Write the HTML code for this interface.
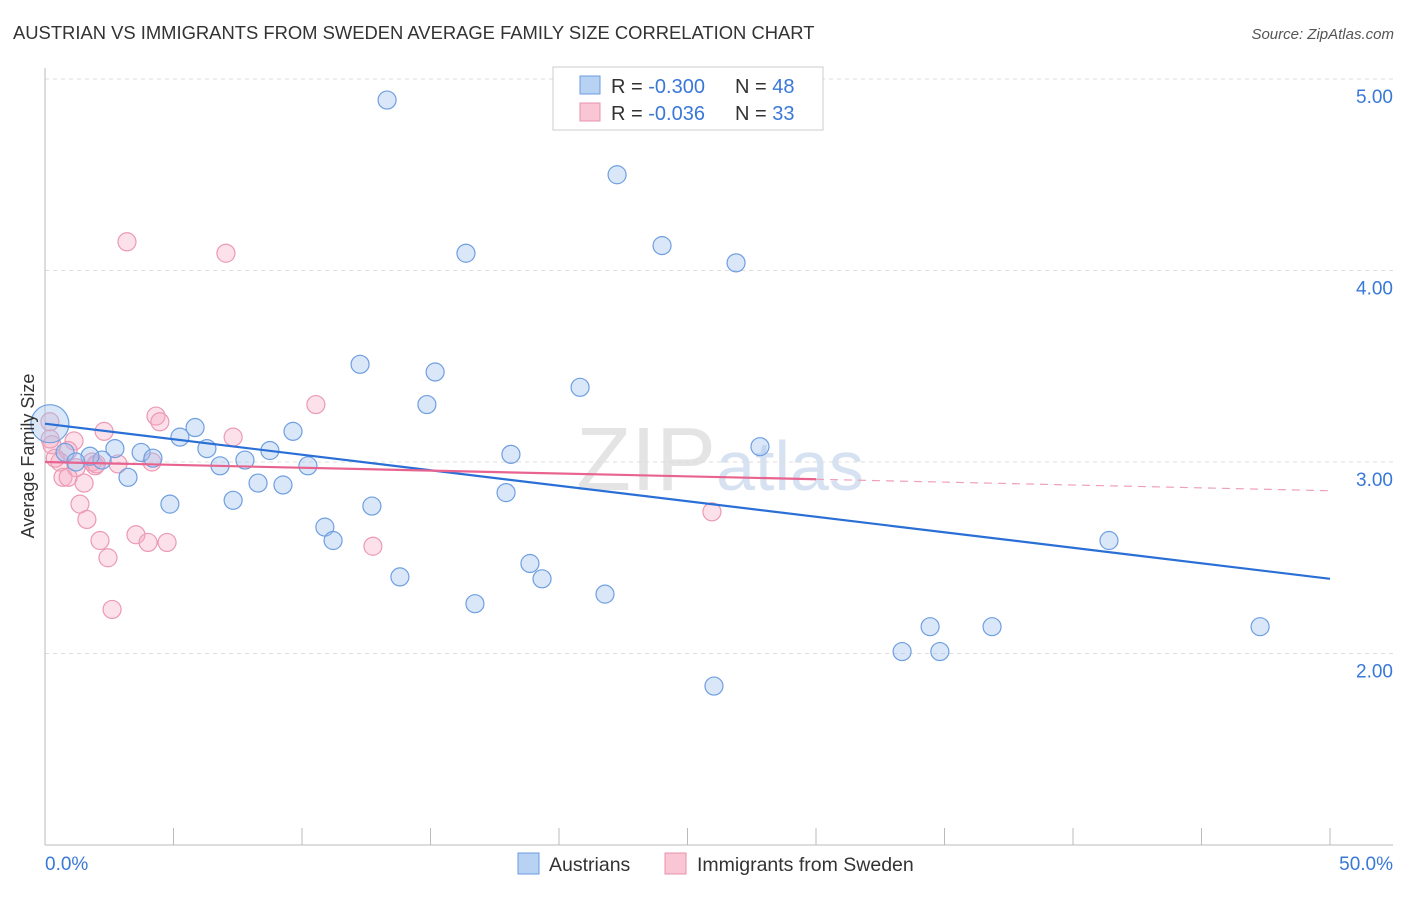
<!DOCTYPE html>
<html><head><meta charset="utf-8"><style>
body{margin:0;background:#fff;font-family:"Liberation Sans",sans-serif;}
svg text{font-family:"Liberation Sans",sans-serif;}
</style></head><body>
<svg id="chart" width="1406" height="892" viewBox="0 0 1406 892" xmlns="http://www.w3.org/2000/svg">
<text x="13" y="39" font-size="18.4" fill="#333">AUSTRIAN VS IMMIGRANTS FROM SWEDEN AVERAGE FAMILY SIZE CORRELATION CHART</text>
<text x="1394" y="39" font-size="15" fill="#555" text-anchor="end" font-style="italic">Source: ZipAtlas.com</text>
<text x="720" y="490" font-size="90" fill="#e4e4e4" text-anchor="middle" font-family="Liberation Serif">ZIP<tspan fill="#d6e2f2" font-family="Liberation Sans" font-size="70">atlas</tspan></text>
<g id="grid"></g><g id="axes"></g><g id="marks"></g>
<text transform="translate(34,456) rotate(-90)" font-size="18" fill="#333" text-anchor="middle">Average Family Size</text>
<g>
<rect x="553" y="67" width="270" height="63" fill="#fff" stroke="#ccc"/>
<rect x="580" y="76" width="20" height="18" fill="#b8d2f4" stroke="#6a9be0"/>
<rect x="580" y="103" width="20" height="18" fill="#f8c6d5" stroke="#e890aa"/>
<text x="611" y="93" font-size="20" fill="#333">R = <tspan fill="#3a78d8">-0.300</tspan></text>
<text x="735" y="93" font-size="20" fill="#333">N = <tspan fill="#3a78d8">48</tspan></text>
<text x="611" y="120" font-size="20" fill="#333">R = <tspan fill="#3a78d8">-0.036</tspan></text>
<text x="735" y="120" font-size="20" fill="#333">N = <tspan fill="#3a78d8">33</tspan></text>
</g>
<g>
<rect x="518" y="853" width="21" height="21" fill="#b8d2f4" stroke="#6a9be0"/>
<text x="549" y="871" font-size="19.5" fill="#333">Austrians</text>
<rect x="665" y="853" width="21" height="21" fill="#f8c6d5" stroke="#e890aa"/>
<text x="697" y="871" font-size="19.5" fill="#333">Immigrants from Sweden</text>
</g>
</svg>
<script>
const yTicks=[2,3,4,5];
const yTickLabels=["2.00","3.00","4.00","5.00"];
const xTickLabels=["0.0%","50.0%"];
const blueX=[13.31,22.26,16.38,24.01,26.89,12.26,15.18,20.82,14.86,5.84,5.25,9.65,6.30,3.74,2.72,8.75,4.20,7.78,2.22,1.75,6.81,10.23,18.13,27.82,3.23,8.29,9.26,4.86,7.32,17.94,12.72,10.89,11.21,41.40,18.87,19.34,13.81,21.79,16.73,34.44,36.85,47.28,33.35,34.82,26.03,0.78,1.2,0.19];
const blueY=[4.89,4.50,4.09,4.13,4.04,3.51,3.47,3.39,3.30,3.18,3.13,3.16,3.07,3.05,3.07,3.06,3.02,3.01,3.01,3.03,2.98,2.98,3.04,3.08,2.92,2.89,2.88,2.78,2.80,2.84,2.77,2.66,2.59,2.59,2.47,2.39,2.40,2.31,2.26,2.14,2.14,2.14,2.01,2.01,1.83,3.05,3.00,3.20];
const pinkX=[3.19,7.04,10.54,4.32,4.47,7.32,2.30,1.13,0.19,0.27,0.90,0.58,1.21,1.95,2.84,4.16,0.70,0.90,1.52,1.36,1.63,2.14,2.45,3.54,4.01,4.75,12.76,25.95,2.61,1.83,0.40,2.0,0.2];
const pinkY=[4.15,4.09,3.30,3.24,3.21,3.13,3.16,3.11,3.21,3.09,3.06,3.00,2.97,2.98,2.99,3.00,2.92,2.92,2.89,2.78,2.70,2.59,2.50,2.62,2.58,2.58,2.56,2.74,2.23,3.00,3.02,2.99,3.12];
const blueTrend=[3.20,2.39];
const pinkTrend=[3.00,2.85];
const pinkSolidEnd=30;
const X0=45,X1=1330,Y0=845,YTOP=79;
const xs=v=>X0+(v/50)*(X1-X0);
const ys=v=>Y0-(v-1)/4*(Y0-YTOP);
const NS="http://www.w3.org/2000/svg";
function mk(t,a,p){const e=document.createElementNS(NS,t);for(const k in a)e.setAttribute(k,a[k]);p.appendChild(e);return e;}
const grid=document.getElementById('grid'),axes=document.getElementById('axes'),marks=document.getElementById('marks');
yTicks.forEach((t,i)=>{
 const l=mk('line',{x1:X0,x2:1393,y1:ys(t),y2:ys(t),stroke:'#ddd','stroke-dasharray':'4,4'},grid);
 
 
 const tx=mk('text',{x:1393,y:ys(t)+24,'font-size':19,fill:'#3a78d8','text-anchor':'end'},axes);
 tx.textContent=yTickLabels[i];
 
 
});
const ax=mk('line',{x1:X0,x2:1393,y1:Y0,y2:Y0,stroke:'#bbb'},axes);


const ay=mk('line',{x1:X0,x2:X0,y1:68,y2:Y0,stroke:'#bbb'},axes);


for(let i=0;i<=10;i++){
 const tk=mk('line',{x1:xs(i*5),x2:xs(i*5),y1:Y0,y2:828,stroke:'#bbb'},axes);
 
 
}
[[0,'start',45],[50,'end',1393]].forEach((d,i)=>{
 const tx=mk('text',{x:d[2],y:870,'font-size':19,fill:'#3a78d8','text-anchor':d[1]},axes);
 tx.textContent=xTickLabels[i];
 
 
});
pinkX.forEach((x,i)=>{
 const c=mk('circle',{cx:xs(x),cy:ys(pinkY[i]),r:9,fill:'rgba(245,170,195,0.35)',stroke:'#eb9ab3','stroke-width':1.2},marks);
 
 
});
blueX.forEach((x,i)=>{
 const big=i===blueX.length-1;
 const c=mk('circle',{cx:xs(x),cy:ys(blueY[i]),r:big?19:9,fill:'rgba(160,196,240,0.4)',stroke:'#6f9fe0','stroke-width':1.2},marks);
 
 
});
const pv=x=>pinkTrend[0]+(pinkTrend[1]-pinkTrend[0])*x/50;
const bl=mk('line',{x1:xs(0),y1:ys(blueTrend[0]),x2:xs(50),y2:ys(blueTrend[1]),stroke:'#2a6fd6','stroke-width':2.2},marks);


const pl=mk('line',{x1:xs(0),y1:ys(pv(0)),x2:xs(pinkSolidEnd),y2:ys(pv(pinkSolidEnd)),stroke:'#e8648e','stroke-width':2.2},marks);


const pd=mk('line',{x1:xs(pinkSolidEnd),y1:ys(pv(pinkSolidEnd)),x2:xs(50),y2:ys(pv(50)),stroke:'#eea0b8','stroke-width':1.2,'stroke-dasharray':'8,6'},marks);


</script>
</body></html>
